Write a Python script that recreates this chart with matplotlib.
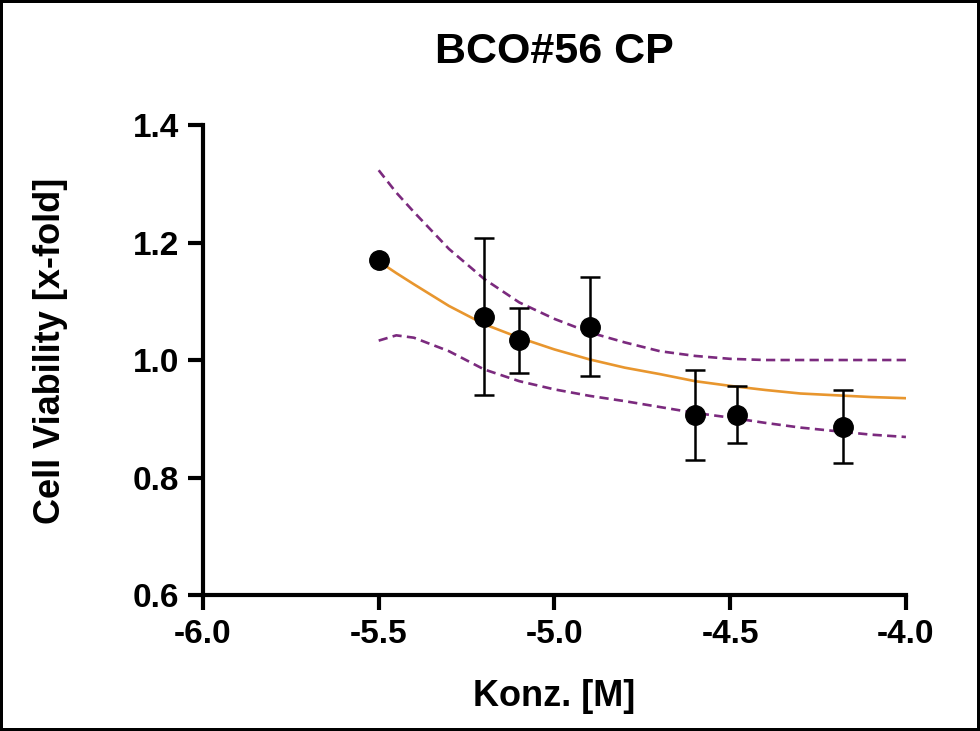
import numpy as np
import matplotlib.pyplot as plt

plt.rcParams['font.family'] = ['Liberation Sans', 'DejaVu Sans']
plt.rcParams['font.weight'] = 'bold'
plt.rcParams['axes.unicode_minus'] = False

# measured points (log concentration, mean, error bar ends)
conc = [-5.5, -5.2, -5.1, -4.9, -4.6, -4.48, -4.18]
viab = [1.17, 1.074, 1.034, 1.057, 0.906, 0.907, 0.886]
err_hi = [np.nan, 1.208, 1.089, 1.142, 0.983, 0.955, 0.949]
err_lo = [np.nan, 0.941, 0.978, 0.972, 0.829, 0.859, 0.824]

# fitted curve and confidence band
fit_x = [-5.5, -5.45, -5.4, -5.3, -5.2, -5.1, -5.0, -4.9, -4.8, -4.7, -4.6, -4.5, -4.4, -4.3, -4.2, -4.1, -4.0]
fit_y = [1.168, 1.148, 1.129, 1.092, 1.061, 1.038, 1.018, 1.001, 0.987, 0.976, 0.964, 0.956, 0.949, 0.943, 0.940, 0.937, 0.935]
upper = [1.323, 1.285, 1.252, 1.189, 1.138, 1.098, 1.070, 1.047, 1.030, 1.015, 1.007, 1.002, 1.000, 1.000, 1.000, 1.000, 1.000]
lower = [1.033, 1.042, 1.038, 1.015, 0.984, 0.964, 0.950, 0.939, 0.930, 0.920, 0.910, 0.902, 0.893, 0.885, 0.879, 0.873, 0.869]

fig = plt.figure(figsize=(9.8, 7.31), dpi=100)
fig.patch.set_edgecolor('black')
fig.patch.set_linewidth(3)
ax = fig.add_axes([0.2071, 0.186, 0.7173, 0.643])

ax.plot(fit_x, upper, c='#7B2A7E', ls=(0, (3.5, 2)), lw=1.9)
ax.plot(fit_x, lower, c='#7B2A7E', ls=(0, (3.5, 2)), lw=1.9)
ax.plot(fit_x, fit_y, c='#E8962E', lw=1.9)

x = np.array(conc)
y = np.array(viab)
hi = np.array(err_hi)
lo = np.array(err_lo)
m = ~np.isnan(hi)
ax.errorbar(x[m], y[m], yerr=[y[m] - lo[m], hi[m] - y[m]], fmt='none', ecolor='black',
            elinewidth=1.8, capsize=7.5, capthick=1.8)
ax.plot(x, y, 'o', c='black', ms=14)

ax.set_xlim(-6.0, -4.0)
ax.set_ylim(0.6, 1.4)
ax.set_xticks([-6.0, -5.5, -5.0, -4.5, -4.0])
ax.set_yticks([0.6, 0.8, 1.0, 1.2, 1.4])
ax.set_xticklabels(["%.1f" % v for v in ax.get_xticks()])
ax.set_yticklabels(["%.1f" % v for v in ax.get_yticks()])
for s in ['top', 'right']:
    ax.spines[s].set_visible(False)
for s in ['left', 'bottom']:
    ax.spines[s].set_linewidth(3)
ax.tick_params(width=3, length=11, labelsize=24, pad=6)

ax.set_title("BCO#56 CP", fontsize=31, fontweight='bold', pad=45)
ax.set_xlabel("Konz. [M]", fontsize=26, fontweight='bold', labelpad=21)
ax.set_ylabel("Cell Viability [x-fold]", fontsize=26, fontweight='bold', labelpad=47, y=0.52)

plt.savefig("out.png", dpi=100)
